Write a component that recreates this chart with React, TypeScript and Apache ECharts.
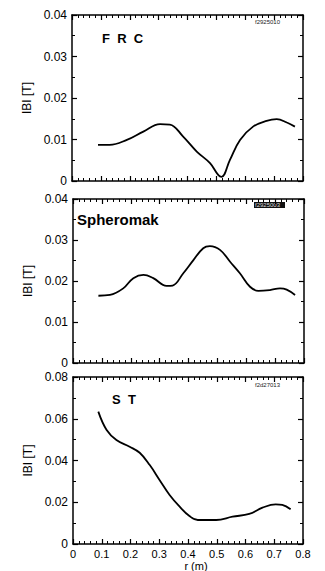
import React, { useEffect, useRef } from "react";
import * as echarts from "echarts";

// r (m) and |B| (T)
const frcR = [0.09, 0.13, 0.19, 0.247, 0.305, 0.339, 0.385, 0.432, 0.478, 0.507, 0.518, 0.547, 0.582, 0.627, 0.674, 0.709, 0.744, 0.772];
const frcB = [0.0087, 0.0087, 0.0099, 0.0119, 0.0137, 0.0136, 0.0107, 0.0071, 0.0043, 0.0014, 0.001, 0.0051, 0.0099, 0.0131, 0.0145, 0.0149, 0.0141, 0.0131];

const sphR = [0.088, 0.128, 0.174, 0.209, 0.244, 0.278, 0.324, 0.345, 0.382, 0.417, 0.451, 0.474, 0.509, 0.544, 0.578, 0.613, 0.642, 0.682, 0.717, 0.74, 0.769];
const sphB = [0.0164, 0.0166, 0.0182, 0.0207, 0.0215, 0.0207, 0.0188, 0.0189, 0.0219, 0.0251, 0.028, 0.0285, 0.0276, 0.0247, 0.0219, 0.0186, 0.0176, 0.0178, 0.0182, 0.0179, 0.0166];

const stR = [0.088, 0.117, 0.151, 0.197, 0.232, 0.267, 0.301, 0.336, 0.371, 0.405, 0.434, 0.498, 0.555, 0.613, 0.659, 0.705, 0.728, 0.757];
const stB = [0.0634, 0.0546, 0.0498, 0.0466, 0.0437, 0.0378, 0.0307, 0.0235, 0.0179, 0.0134, 0.0115, 0.0115, 0.0131, 0.0144, 0.0174, 0.019, 0.0187, 0.0166];

const panelTitles = ["F  R  C", "Spheromak", "S  T"];
const panelTags = ["f2925010", "f2925003", "f2d27013"];
const yMax = [0.04, 0.04, 0.08];
const yStep = [0.01, 0.01, 0.02];
const xTickLabels = ["0", "0.1", "0.2", "0.3", "0.4", "0.5", "0.6", "0.7", "0.8"];
const yName = "IBI [T]";
const xName = "r (m)";

const FONT = "Liberation Sans, Arial, sans-serif";

export default function App() {
  const ref = useRef<HTMLDivElement>(null);
  useEffect(() => {
    if (!ref.current) return;
    const chart = echarts.init(ref.current, null, { renderer: "svg" });
    const grids = [
      { left: 72, top: 15, width: 231, height: 166 },
      { left: 73, top: 199, width: 231, height: 164 },
      { left: 73, top: 377, width: 230, height: 167 },
    ];
    const lineStyle = { color: "#000", width: 1.5 };
    const tick = { show: true, inside: true, length: 5, lineStyle: { color: "#000", width: 1.2 } };
    const xAxes: any[] = [];
    const yAxes: any[] = [];
    grids.forEach((g, i) => {
      const xBase = {
        type: "value",
        gridIndex: i,
        min: 0,
        max: 0.8,
        interval: 0.1,
        splitLine: { show: false },
        axisLine: { show: true, onZero: false, lineStyle },
        axisTick: tick,
        minorTick: { show: true, splitNumber: 5, length: 3, lineStyle: { color: "#000", width: 1 } },
      };
      xAxes.push({
        ...xBase,
        position: "bottom",
        axisLabel: {
          show: i === 2,
          color: "#000",
          fontSize: 11,
          fontFamily: FONT,
          margin: 4,
          formatter: (v: number) => xTickLabels[Math.round(v * 10)] ?? "",
        },
      });
      xAxes.push({ ...xBase, position: "top", axisLabel: { show: false } });
      const yBase = {
        type: "value",
        gridIndex: i,
        min: 0,
        max: yMax[i],
        interval: yStep[i],
        splitLine: { show: false },
        axisLine: { show: true, onZero: false, lineStyle },
        axisTick: tick,
        minorTick: { show: true, splitNumber: 2, length: 3, lineStyle: { color: "#000", width: 1 } },
      };
      yAxes.push({
        ...yBase,
        position: "left",
        name: yName,
        nameLocation: "middle",
        nameGap: 38,
        nameRotate: 90,
        nameTextStyle: { color: "#000", fontSize: 12, fontFamily: FONT },
        axisLabel: {
          color: "#000",
          fontSize: 12,
          fontFamily: FONT,
          margin: 5,
          formatter: (v: number) => (v === 0 ? "0" : v.toFixed(2)),
        },
      });
      yAxes.push({ ...yBase, position: "right", axisLabel: { show: false } });
    });
    const data = [
      [frcR, frcB],
      [sphR, sphB],
      [stR, stB],
    ];
    const series = data.map(([rs, bs], i) => ({
      type: "line",
      xAxisIndex: i * 2,
      yAxisIndex: i * 2,
      data: rs.map((r, k) => [r, bs[k]]),
      smooth: 0.4,
      showSymbol: false,
      lineStyle: { color: "#000", width: 1.8 },
    }));
    const titlePos = [
      { x: 102, y: 38 },
      { x: 77, y: 219 },
      { x: 112, y: 399 },
    ];
    const tagPos = [
      { x: 254, y: 22 },
      { x: 254, y: 205 },
      { x: 254, y: 385 },
    ];
    const graphic: any[] = [];
    panelTitles.forEach((t, i) => {
      graphic.push({
        type: "text",
        x: titlePos[i].x,
        y: titlePos[i].y,
        style: {
          text: t,
          fill: "#000",
          font: `bold ${i === 1 ? 15 : 13}px ${FONT}`,
          textVerticalAlign: "middle",
        },
      });
    });
    panelTags.forEach((t, i) => {
      if (i === 1) {
        graphic.push({
          type: "rect",
          shape: { x: tagPos[i].x, y: tagPos[i].y - 3, width: 31, height: 6 },
          style: { fill: "#111" },
        });
      }
      graphic.push({
        type: "text",
        x: tagPos[i].x + 1,
        y: tagPos[i].y,
        style: {
          text: t,
          fill: i === 1 ? "#ddd" : "#222",
          font: `6px ${FONT}`,
          textVerticalAlign: "middle",
        },
      });
    });
    graphic.push({
      type: "text",
      x: 196,
      y: 566,
      style: {
        text: xName,
        fill: "#000",
        font: `11px ${FONT}`,
        textAlign: "center",
        textVerticalAlign: "middle",
      },
    });
    chart.setOption({
      animation: false,
      backgroundColor: "#fff",
      grid: grids,
      xAxis: xAxes,
      yAxis: yAxes,
      series,
      graphic,
    });
    return () => chart.dispose();
  }, []);
  return (
    <div
      ref={ref}
      style={{ position: "absolute", left: 0, top: 0, width: 325, height: 571 }}
    />
  );
}
